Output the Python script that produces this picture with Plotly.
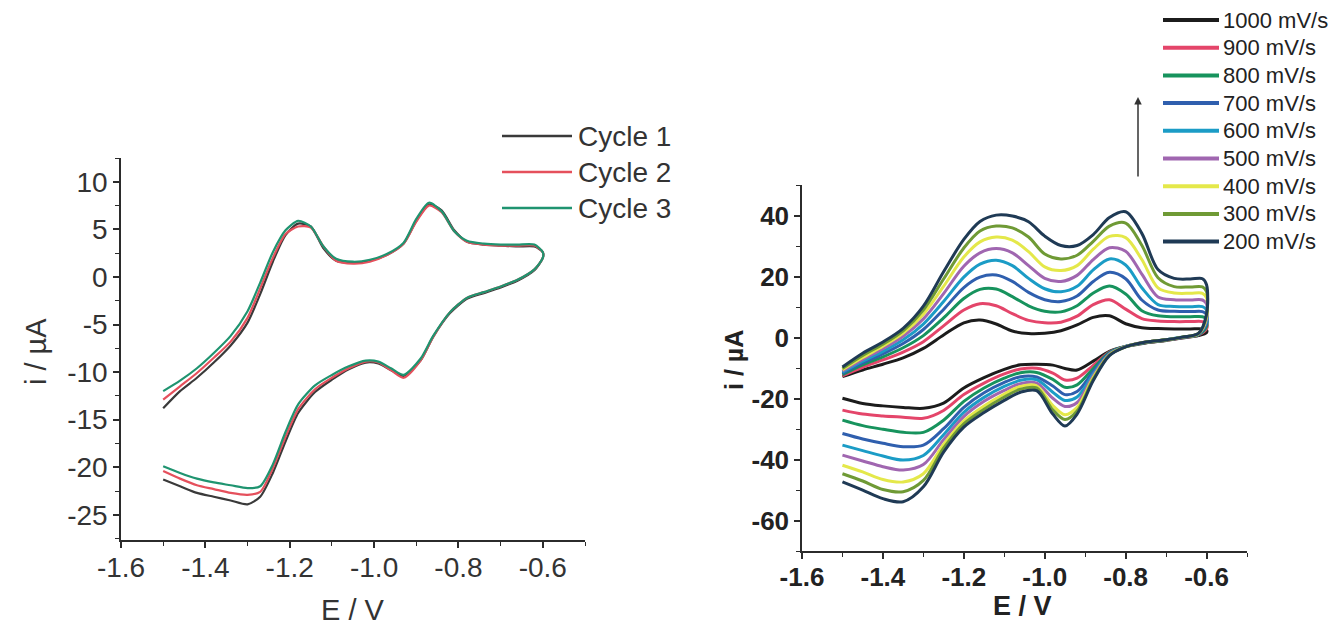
import plotly.graph_objects as go

W, H = 1332, 625

# ---------------- left panel: three successive cycles ----------------
cycle_names = ["Cycle 1", "Cycle 2", "Cycle 3"]
cycle_colors = ["#3a3a3a", "#e5505c", "#1f9470"]

# potential program (V): anodic sweep then cathodic sweep
cycle_e_anodic = [-1.50, -1.46, -1.42, -1.38, -1.34, -1.30, -1.27, -1.24, -1.21, -1.18,
                  -1.15, -1.12, -1.09, -1.05, -1.01, -0.97, -0.93, -0.90, -0.87, -0.84,
                  -0.81, -0.78, -0.74, -0.70, -0.66, -0.62, -0.60]
cycle_e_cathodic = [-0.60, -0.62, -0.66, -0.70, -0.74, -0.78, -0.82, -0.86, -0.89, -0.93,
                    -0.96, -0.99, -1.02, -1.06, -1.10, -1.14, -1.18, -1.21, -1.24, -1.27,
                    -1.30, -1.34, -1.38, -1.42, -1.46, -1.50]

# currents (µA)
cycle1_anodic = [-13.8, -12.0, -10.6, -9.0, -7.2, -4.8, -1.8, 1.6, 4.4, 5.6, 5.3, 3.0, 1.7,
                 1.5, 1.7, 2.3, 3.5, 5.9, 7.6, 7.0, 4.9, 3.7, 3.4, 3.3, 3.2, 3.2, 2.6]
cycle2_anodic = [-12.9, -11.5, -10.1, -8.5, -6.8, -4.3, -1.2, 2.0, 4.5, 5.3, 5.2, 3.2, 1.7,
                 1.4, 1.6, 2.3, 3.5, 5.8, 7.5, 6.8, 4.8, 3.7, 3.4, 3.3, 3.3, 3.3, 2.6]
cycle3_anodic = [-12.0, -10.9, -9.6, -8.0, -6.2, -3.6, -0.6, 2.6, 4.9, 5.9, 5.3, 3.2, 1.9,
                 1.6, 1.8, 2.4, 3.6, 6.1, 7.8, 6.9, 4.8, 3.8, 3.5, 3.4, 3.4, 3.4, 2.6]
cycle1_cathodic = [2.0, 0.7, -0.4, -1.1, -1.7, -2.3, -3.8, -6.3, -8.8, -10.4, -9.8, -9.1, -9.0,
                   -9.7, -10.8, -12.1, -14.3, -17.3, -20.6, -23.1, -23.9, -23.5, -23.1, -22.7,
                   -22.0, -21.3]
cycle2_cathodic = [2.0, 0.8, -0.3, -1.0, -1.6, -2.2, -3.7, -6.3, -8.8, -10.6, -9.8, -9.0, -8.9,
                   -9.6, -10.6, -11.8, -13.9, -16.8, -20.1, -22.6, -22.9, -22.7, -22.3, -21.9,
                   -21.2, -20.4]
cycle3_cathodic = [2.0, 0.8, -0.3, -1.0, -1.6, -2.2, -3.7, -6.2, -8.6, -10.3, -9.6, -8.9, -8.8,
                   -9.4, -10.3, -11.4, -13.4, -16.3, -19.7, -22.0, -22.2, -21.9, -21.6, -21.2,
                   -20.6, -19.9]

left_x_ticks = [-1.6, -1.4, -1.2, -1.0, -0.8, -0.6]
left_y_ticks = [10, 5, 0, -5, -10, -15, -20, -25]

# ---------------- right panel: scan-rate series ----------------
rate_names = ["1000 mV/s", "900 mV/s", "800 mV/s", "700 mV/s", "600 mV/s",
              "500 mV/s", "400 mV/s", "300 mV/s", "200 mV/s"]
rate_colors = ["#1c1c1c", "#e4456a", "#17935d", "#2f5fae", "#1b9cc6",
               "#a066b0", "#e4e84a", "#6f9a35", "#1f3a55"]

rate_e_anodic = [-1.50, -1.45, -1.40, -1.35, -1.30, -1.25, -1.20, -1.16, -1.12, -1.08,
                 -1.04, -1.00, -0.96, -0.92, -0.88, -0.84, -0.80, -0.76, -0.72, -0.68,
                 -0.64, -0.61, -0.60]
rate_e_cathodic = [-0.60, -0.62, -0.66, -0.70, -0.75, -0.80, -0.84, -0.88, -0.92, -0.95,
                   -0.98, -1.02, -1.06, -1.10, -1.15, -1.20, -1.25, -1.30, -1.35, -1.40,
                   -1.45, -1.50]

i1000_anodic = [-12.7, -10.5, -8.6, -6.5, -3.4, 1.0, 5.0, 5.9, 4.6, 2.3, 1.5, 1.6, 2.4, 4.3,
                6.8, 7.3, 4.7, 3.4, 3.1, 3.0, 3.0, 3.0, 2.6]
i900_anodic = [-12.4, -9.6, -7.2, -4.6, -1.2, 4.0, 9.2, 11.3, 10.6, 8.0, 5.8, 5.0, 5.2, 7.2,
               11.0, 12.6, 9.5, 6.4, 5.6, 5.4, 5.4, 5.4, 4.8]
i800_anodic = [-12.0, -8.8, -6.2, -3.2, 0.8, 6.6, 13.0, 16.0, 16.1, 13.6, 10.6, 8.8, 8.6,
               10.6, 14.8, 17.1, 14.5, 9.0, 7.3, 7.0, 7.0, 7.0, 6.3]
i700_anodic = [-11.6, -8.2, -5.2, -1.8, 2.8, 9.4, 16.6, 20.0, 20.7, 18.6, 15.0, 12.6, 12.0,
               13.8, 18.6, 21.6, 19.5, 12.5, 9.2, 8.8, 8.7, 8.7, 7.8]
i600_anodic = [-11.2, -7.6, -4.4, -0.6, 4.6, 12.0, 20.0, 24.3, 25.6, 23.8, 19.6, 16.2, 15.2,
               17.0, 22.4, 26.0, 24.0, 16.5, 11.0, 10.4, 10.3, 10.3, 9.2]
i500_anodic = [-10.8, -7.0, -3.5, 0.6, 6.3, 14.6, 23.6, 28.0, 29.4, 28.0, 23.8, 19.6, 18.6,
               20.6, 25.8, 29.7, 28.5, 21.0, 13.5, 12.6, 12.5, 12.5, 11.2]
i400_anodic = [-10.4, -6.4, -2.7, 1.6, 7.8, 17.0, 26.6, 31.6, 33.2, 32.2, 28.4, 23.4, 22.2,
               23.8, 29.2, 33.4, 33.0, 25.8, 16.5, 14.8, 14.7, 14.7, 13.2]
i300_anodic = [-10.0, -5.7, -2.0, 2.4, 9.2, 19.4, 29.6, 35.2, 36.8, 36.2, 33.2, 27.6, 26.0,
               27.2, 31.8, 36.8, 37.8, 30.5, 19.8, 16.9, 16.8, 16.8, 15.2]
i200_anodic = [-9.5, -5.0, -1.3, 3.2, 10.5, 21.8, 32.4, 38.3, 40.4, 40.1, 38.2, 33.5, 30.4,
               30.4, 34.0, 39.6, 41.5, 34.4, 22.5, 19.6, 19.4, 19.5, 17.5]

i1000_cathodic = [1.8, 0.8, 0.0, -0.8, -1.6, -2.8, -4.4, -7.6, -10.5, -10.0, -8.9, -8.6, -8.8,
                  -10.3, -13.0, -16.4, -21.4, -23.1, -22.8, -22.3, -21.5, -19.8]
i900_cathodic = [3.0, 1.0, 0.1, -0.7, -1.5, -2.8, -4.6, -9.0, -13.2, -13.8, -11.5, -9.9, -10.2,
                 -11.8, -14.8, -18.6, -23.8, -26.4, -26.0, -25.6, -25.0, -23.7]
i800_cathodic = [3.8, 1.1, 0.2, -0.7, -1.5, -2.8, -4.8, -10.0, -15.4, -16.2, -13.6, -11.3, -11.4,
                 -13.2, -16.4, -20.8, -27.0, -31.0, -31.0, -30.0, -28.8, -27.0]
i700_cathodic = [4.6, 1.2, 0.2, -0.6, -1.4, -2.8, -5.0, -11.0, -17.6, -18.6, -15.8, -12.8, -12.7,
                 -14.6, -18.0, -22.8, -29.8, -35.2, -35.7, -34.6, -33.2, -31.4]
i600_cathodic = [5.4, 1.3, 0.3, -0.6, -1.4, -2.8, -5.2, -11.8, -19.4, -20.5, -17.8, -13.7, -13.9,
                 -15.9, -19.5, -24.4, -31.8, -38.6, -40.1, -38.8, -37.0, -35.2]
i500_cathodic = [6.0, 1.4, 0.3, -0.6, -1.3, -2.8, -5.3, -12.4, -21.2, -22.5, -19.8, -14.8, -15.0,
                 -17.2, -20.8, -25.8, -33.4, -41.6, -43.4, -42.3, -40.4, -38.5]
i400_cathodic = [6.8, 1.4, 0.3, -0.6, -1.3, -2.9, -5.5, -13.0, -22.8, -25.2, -22.2, -15.7, -15.9,
                 -18.4, -22.3, -27.2, -35.0, -44.6, -47.3, -46.5, -44.0, -41.8]
i300_cathodic = [7.4, 1.5, 0.3, -0.6, -1.3, -2.9, -5.6, -13.5, -24.0, -26.8, -23.6, -16.4, -16.8,
                 -19.4, -23.4, -28.2, -36.2, -46.8, -50.5, -49.8, -47.0, -44.6]
i200_cathodic = [8.0, 1.5, 0.3, -0.6, -1.3, -2.9, -5.8, -14.0, -25.0, -28.9, -25.0, -17.3, -17.8,
                 -20.5, -24.5, -29.3, -37.5, -48.9, -53.8, -52.8, -50.0, -47.3]

right_x_ticks = [-1.6, -1.4, -1.2, -1.0, -0.8, -0.6]
right_y_ticks = [40, 20, 0, -20, -40, -60]

# ---------------- helpers ----------------
def px(x):
    return x / W


def py(y):
    return 1 - y / H


FONT = "Liberation Sans, Arial, sans-serif"
INK = "#2b2b2b"

cycle_anodic = [cycle1_anodic, cycle2_anodic, cycle3_anodic]
cycle_cathodic = [cycle1_cathodic, cycle2_cathodic, cycle3_cathodic]
rate_anodic = [i1000_anodic, i900_anodic, i800_anodic, i700_anodic, i600_anodic,
               i500_anodic, i400_anodic, i300_anodic, i200_anodic]
rate_cathodic = [i1000_cathodic, i900_cathodic, i800_cathodic, i700_cathodic, i600_cathodic,
                 i500_cathodic, i400_cathodic, i300_cathodic, i200_cathodic]

fig = go.Figure()

for name, color, up, down in zip(cycle_names, cycle_colors, cycle_anodic, cycle_cathodic):
    fig.add_trace(go.Scatter(
        x=cycle_e_anodic + cycle_e_cathodic, y=up + down, name=name, mode="lines",
        line=dict(color=color, width=2.2, shape="spline", smoothing=0.7),
        xaxis="x", yaxis="y", showlegend=False))

for name, color, up, down in zip(rate_names, rate_colors, rate_anodic, rate_cathodic):
    fig.add_trace(go.Scatter(
        x=rate_e_anodic + rate_e_cathodic, y=up + down, name=name, mode="lines",
        line=dict(color=color, width=3, shape="spline", smoothing=0.9),
        xaxis="x2", yaxis="y2", showlegend=False))

axis_common = dict(showline=True, linecolor=INK, linewidth=1.5, mirror=False,
                   ticks="outside", tickcolor=INK, tickwidth=1.5, ticklen=6,
                   showgrid=False, zeroline=False, automargin=False)

left_tick_font = dict(family=FONT, size=28, color="#333333")
right_tick_font = dict(family=FONT, size=26, color="#222222", weight="bold")

fig.update_layout(
    template="none",
    width=W, height=H, autosize=False,
    margin=dict(l=0, r=0, t=0, b=0, pad=0),
    paper_bgcolor="white", plot_bgcolor="white",
    showlegend=False,
    xaxis=dict(domain=[px(121), px(585)], anchor="y", range=[-1.6, -0.5],
               tickvals=left_x_ticks, ticktext=[f"{v:.1f}" for v in left_x_ticks],
               tickfont=left_tick_font, ticklabelstandoff=-4,
               minor=dict(ticks="outside", ticklen=4, tickwidth=1.2, tickcolor=INK,
                          dtick=0.1, tick0=-1.6, showgrid=False),
               **axis_common),
    yaxis=dict(domain=[py(540), py(158)], anchor="x", range=[-27.65, 12.5],
               tickvals=left_y_ticks, ticktext=[f"{v:d}" for v in left_y_ticks],
               tickfont=left_tick_font,
               minor=dict(ticks="outside", ticklen=4, tickwidth=1.2, tickcolor=INK,
                          dtick=2.5, tick0=0, showgrid=False),
               **axis_common),
    xaxis2=dict(domain=[px(802), px(1247)], anchor="y2", range=[-1.6, -0.5],
                tickvals=right_x_ticks, ticktext=[f"{v:.1f}" for v in right_x_ticks],
                tickfont=right_tick_font, ticklabelstandoff=-4,
                minor=dict(ticks="outside", ticklen=4, tickwidth=1.2, tickcolor=INK,
                           dtick=0.1, tick0=-1.6, showgrid=False),
                **axis_common),
    yaxis2=dict(domain=[py(551), py(185)], anchor="x2", range=[-70, 50.3],
                tickvals=right_y_ticks, ticktext=[f"{v:d}" for v in right_y_ticks],
                tickfont=right_tick_font,
                minor=dict(ticks="outside", ticklen=4, tickwidth=1.2, tickcolor=INK,
                           dtick=10, tick0=0, showgrid=False),
                **axis_common),
)

annotations = [
    # axis titles
    dict(text="E / V", x=px(353), y=py(610), xanchor="center", yanchor="middle",
         font=dict(family=FONT, size=29, color="#333333")),
    dict(text="i / µA", x=px(36), y=py(352), xanchor="center", yanchor="middle",
         textangle=-90, font=dict(family=FONT, size=29, color="#333333")),
    dict(text="<b>E / V</b>", x=px(1022), y=py(606), xanchor="center", yanchor="middle",
         font=dict(family=FONT, size=27, color="#222222")),
    dict(text="<b>i / µA</b>", x=px(734), y=py(360), xanchor="center", yanchor="middle",
         textangle=-90, font=dict(family=FONT, size=25, color="#222222")),
]
shapes = []

# legend for the cycles
for k, (name, color) in enumerate(zip(cycle_names, cycle_colors)):
    yy = 136 + 36 * k
    shapes.append(dict(type="line", xref="paper", yref="paper",
                       x0=px(502), x1=px(572), y0=py(yy), y1=py(yy),
                       line=dict(color=color, width=2.5)))
    annotations.append(dict(text=name, x=px(576), y=py(yy), xanchor="left", yanchor="middle",
                            font=dict(family=FONT, size=28, color="#333333")))

# legend for the scan rates
for k, (name, color) in enumerate(zip(rate_names, rate_colors)):
    yy = 20 + 27.7 * k
    shapes.append(dict(type="line", xref="paper", yref="paper",
                       x0=px(1163), x1=px(1219), y0=py(yy), y1=py(yy),
                       line=dict(color=color, width=4)))
    annotations.append(dict(text=name, x=px(1221), y=py(yy), xanchor="left", yanchor="middle",
                            font=dict(family=FONT, size=22, color="#222222")))

# trend arrow
annotations.append(dict(text="", x=px(1138), y=py(97), xref="paper", yref="paper",
                        showarrow=True, ax=0, ay=81, arrowhead=2, arrowsize=1,
                        arrowwidth=1.5, arrowcolor="#333333"))

for a in annotations:
    a.setdefault("xref", "paper")
    a.setdefault("yref", "paper")
    a.setdefault("showarrow", False)

fig.update_layout(annotations=annotations, shapes=shapes)

fig.write_html("out.html")
